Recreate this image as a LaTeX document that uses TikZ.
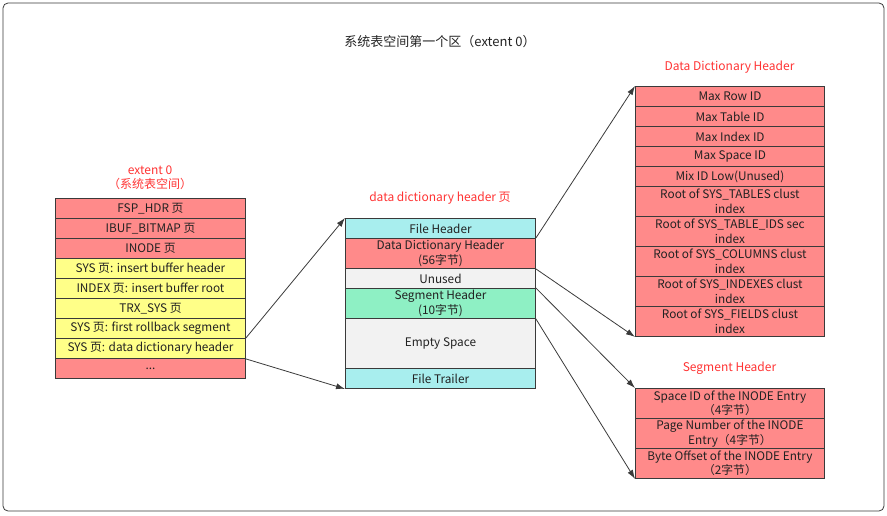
\documentclass[tikz,border=0pt]{standalone}
\usepackage{fontspec}
\setmainfont{Noto Sans CJK SC}
\newfontfamily\cjk{Noto Sans CJK SC}
\usetikzlibrary{arrows.meta}
\definecolor{bd}{HTML}{3A3A3A}
\definecolor{cred}{HTML}{FF8A8A}
\definecolor{cyel}{HTML}{FFFF88}
\definecolor{ccyan}{HTML}{A8EEEE}
\definecolor{cgreen}{HTML}{8EF0C4}
\definecolor{cgray}{HTML}{F2F2F2}
\definecolor{lblred}{HTML}{FF3333}
\definecolor{txt}{HTML}{222222}
\tikzset{
  row/.style={draw=bd, line width=0.9pt, inner sep=0pt, align=center, anchor=north west,
    font=\cjk\fontsize{11.8}{14.5}\selectfont, text=txt},
  lw/.style={row, minimum width=190pt},
  rw/.style={row, minimum width=189pt},
  h20/.style={minimum height=20pt},
  h30/.style={minimum height=30pt},
  h50/.style={minimum height=50pt},
  red/.style={fill=cred}, yel/.style={fill=cyel}, cya/.style={fill=ccyan},
  grn/.style={fill=cgreen}, gry/.style={fill=cgray},
  lbl/.style={font=\cjk\fontsize{12}{14}\selectfont, text=lblred, align=center},
  conn/.style={draw=bd, line width=0.8pt, -{Latex[length=9pt,width=6pt]}}
}
\begin{document}
\begin{tikzpicture}[x=1pt,y=-1pt]
\useasboundingbox (0,0) rectangle (887,515);
\draw[draw=bd, line width=0.8pt, rounded corners=5pt] (3,3) rectangle (884,511);
\node[font=\cjk\fontsize{13}{15}\selectfont, text=txt] (title) at (440,42) {系统表空间第一个区（extent 0）};

% left column
\node[lbl] (llbl) at (150,178) {extent 0\\（系统表空间）};
\node[lw,h20,red] (l1) at (55,198) {FSP\_HDR 页};
\node[lw,h20,red] (l2) at (55,218) {IBUF\_BITMAP 页};
\node[lw,h20,red] (l3) at (55,238) {INODE 页};
\node[lw,h20,yel] (l4) at (55,258) {SYS 页: insert buffer header};
\node[lw,h20,yel] (l5) at (55,278) {INDEX 页: insert buffer root};
\node[lw,h20,yel] (l6) at (55,298) {TRX\_SYS 页};
\node[lw,h20,yel] (l7) at (55,318) {SYS 页: first rollback segment};
\node[lw,h20,yel] (l8) at (55,338) {SYS 页: data dictionary header};
\node[lw,h20,red] (l9) at (55,358) {...};

% middle column
\node[lbl] (mlbl) at (440,198) {data dictionary header 页};
\node[lw,h20,cya] (m1) at (345,218) {File Header};
\node[lw,h30,red] (m2) at (345,238) {Data Dictionary Header\\(56字节)};
\node[lw,h20,gry] (m3) at (345,268) {Unused};
\node[lw,h30,grn] (m4) at (345,288) {Segment Header\\(10字节)};
\node[lw,h50,gry] (m5) at (345,318) {Empty Space};
\node[lw,h20,cya] (m6) at (345,368) {File Trailer};

% right top
\node[lbl] (rlbl) at (729.5,67) {Data Dictionary Header};
\node[rw,h20,red] (r1) at (635,86) {Max Row ID};
\node[rw,h20,red] (r2) at (635,106) {Max Table ID};
\node[rw,h20,red] (r3) at (635,126) {Max Index ID};
\node[rw,h20,red] (r4) at (635,146) {Max Space ID};
\node[rw,h20,red] (r5) at (635,166) {Mix ID Low(Unused)};
\node[rw,h30,red] (r6) at (635,186) {Root of SYS\_TABLES clust\\index};
\node[rw,h30,red] (r7) at (635,216) {Root of SYS\_TABLE\_IDS sec\\index};
\node[rw,h30,red] (r8) at (635,246) {Root of SYS\_COLUMNS clust\\index};
\node[rw,h30,red] (r9) at (635,276) {Root of SYS\_INDEXES clust\\index};
\node[rw,h30,red] (r10) at (635,306) {Root of SYS\_FIELDS clust\\index};

% right bottom
\node[lbl] (slbl) at (729.5,368) {Segment Header};
\node[rw,h30,red] (s1) at (635,388) {Space ID of the INODE Entry\\（4字节）};
\node[rw,h30,red] (s2) at (635,418) {Page Number of the INODE\\Entry（4字节）};
\node[rw,h30,red] (s3) at (635,448) {Byte Offset of the INODE Entry\\（2字节）};

% connectors
\draw[conn] (l8.north east) -- (m1.north west);
\draw[conn] (l8.south east) -- (m6.south west);
\draw[conn] (m2.north east) -- (r1.north west);
\draw[conn] (m2.south east) -- (r10.south west);
\draw[conn] (m4.north east) -- (s1.north west);
\draw[conn] (m4.south east) -- (s3.south west);
\end{tikzpicture}
\end{document}
